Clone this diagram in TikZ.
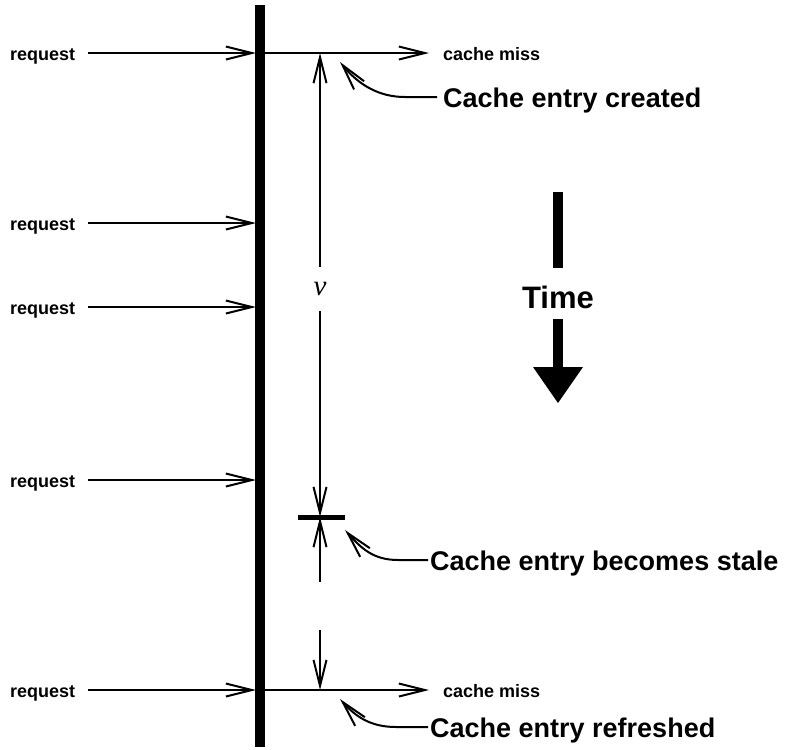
\documentclass[tikz,border=0pt]{standalone}
\usepackage{fontspec}
\setmainfont{Liberation Sans}
\newfontfamily\serifit{Liberation Serif}
\usetikzlibrary{arrows.meta,calc}

\begin{document}
\begin{tikzpicture}[x=1pt,y=-1pt,
    lbl/.style={font=\fontsize{18}{20}\selectfont\bfseries, inner sep=0pt, anchor=base west},
    note/.style={font=\fontsize{27}{30}\selectfont\bfseries, inner sep=0pt, anchor=base west},
    arr/.style={line width=2pt, -{Straight Barb[length=26pt,width=13pt]}},
    timebar/.style={line width=10pt}]
    \useasboundingbox (0,0) rectangle (788,750);
    % the time line
    \coordinate (top) at (260,5);
    \coordinate (bot) at (260,747);
    \draw[line width=10pt] (top) -- (bot);
    \foreach \y/\n in {53/1,223/2,307/3,480/4,690/5} {
        \node[lbl] (req\n) at (10,\y+7) {request};
        \coordinate (from\n) at (88,\y);
        \coordinate (hit\n) at (256,\y);
        \draw[arr] (from\n) -- (hit\n);
    }
    \coordinate (missA) at (429,53);
    \coordinate (missB) at (429,690);
    \draw[arr] (hit1) -- (missA);
    \draw[arr] (hit5) -- (missB);
    \node[lbl] (missAtxt) at (443,60) {cache miss};
    \node[lbl] (missBtxt) at (443,697) {cache miss};
    % validity period
    \coordinate (vtop) at (320,53);
    \coordinate (stale) at (320,517);
    \coordinate (gapA) at (320,582);
    \coordinate (gapB) at (320,630);
    \coordinate (vbot) at (320,690);
    \node[font=\fontsize{29}{30}\selectfont\serifit\itshape, inner sep=0pt, minimum height=44pt] (v) at (320,289) {v};
    \draw[arr] (v.north) -- (vtop);
    \draw[arr] (v.south) -- (stale);
    \draw[arr] (gapA) -- (stale);
    \draw[arr] (gapB) -- (vbot);
    \draw[line width=5pt] ([xshift=-22pt]stale) -- ([xshift=25pt]stale);
    % notes
    \node[note] (created) at (443,107) {Cache entry created};
    \node[note] (becomesstale) at (430,570) {Cache entry becomes stale};
    \node[note] (refreshed) at (430,737) {Cache entry refreshed};
    \coordinate (createdtip) at (340,62);
    \coordinate (staletip) at (345,530);
    \coordinate (refreshedtip) at (340,699);
    \draw[arr] ($(created.base west)+(-6,-10)$) -- +(-32,0) .. controls +(-27,0) and +(18,22) .. (createdtip);
    \draw[arr] ($(becomesstale.base west)+(-2,-10)$) -- +(-30,0) .. controls +(-25,0) and +(16,18) .. (staletip);
    \draw[arr] ($(refreshed.base west)+(-2,-10)$) -- +(-32,0) .. controls +(-25,0) and +(16,18) .. (refreshedtip);
    % time arrow
    \node[font=\fontsize{31}{34}\selectfont\bfseries, inner sep=0pt] (time) at (558,297) {Time};
    \draw[timebar] (558,192) -- (558,268);
    \draw[timebar] (558,319) -- (558,370);
    \fill (533,367) -- (583,367) -- (558,403) -- cycle;
\end{tikzpicture}
\end{document}
